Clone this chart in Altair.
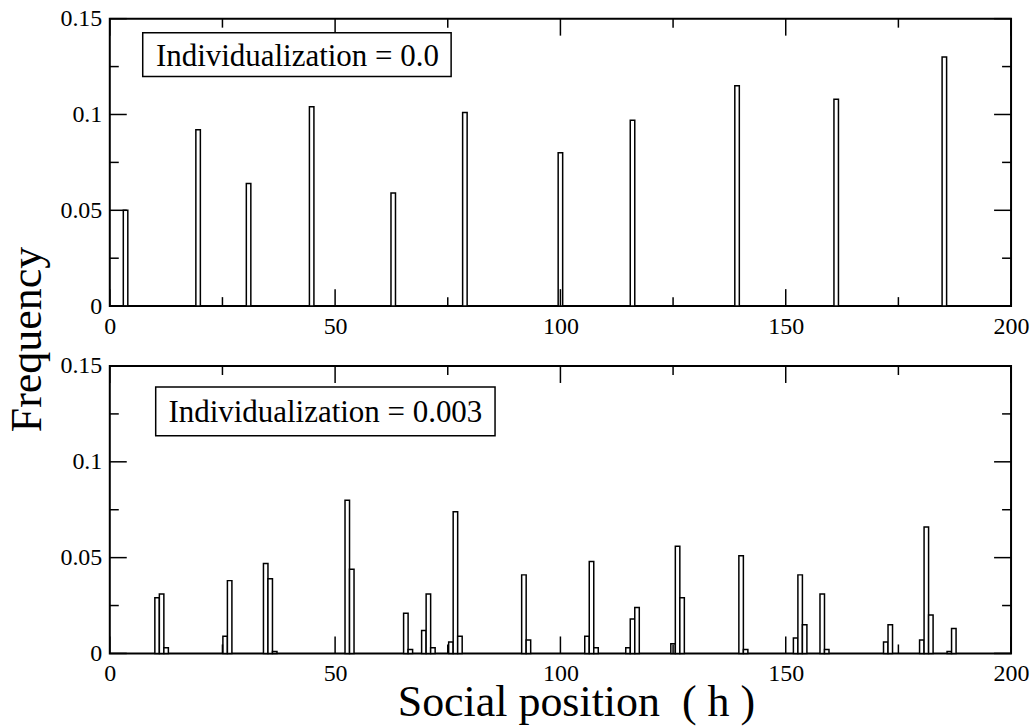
import altair as alt
import pandas as pd

FONT = "Liberation Serif"

# Histogram bins (left edge of each 1-wide bin) and their frequencies.
top_start = [3.0, 19.1, 30.3, 44.3, 62.4, 78.3, 99.5, 115.5, 138.7, 160.7, 184.7]
top_freq = [0.050, 0.092, 0.064, 0.104, 0.059, 0.101, 0.080, 0.097, 0.115, 0.108, 0.130]

bottom_start = [
    10.0, 11.0, 12.0,
    25.1, 26.1,
    34.1, 35.1, 36.1,
    52.2, 53.2,
    65.2, 66.2,
    69.2, 70.2, 71.2,
    75.2, 76.2, 77.2,
    91.4, 92.4,
    105.4, 106.4, 107.4,
    114.5, 115.5, 116.5,
    124.5, 125.5, 126.5,
    139.6, 140.6,
    151.7, 152.7, 153.7,
    157.6, 158.6,
    171.7, 172.7,
    179.7, 180.7, 181.7,
    185.8, 186.8,
]
bottom_freq = [
    0.029, 0.031, 0.003,
    0.009, 0.038,
    0.047, 0.039, 0.001,
    0.080, 0.044,
    0.021, 0.002,
    0.012, 0.031, 0.003,
    0.006, 0.074, 0.009,
    0.041, 0.007,
    0.009, 0.048, 0.003,
    0.003, 0.018, 0.024,
    0.005, 0.056, 0.029,
    0.051, 0.002,
    0.008, 0.041, 0.015,
    0.031, 0.002,
    0.006, 0.015,
    0.007, 0.066, 0.020,
    0.001, 0.013,
]

bin_width = 1.0

x_major = [0, 50, 100, 150, 200]
x_minor = [25, 75, 125, 175]
y_major = [0, 0.05, 0.1, 0.15]
y_minor = [0.025, 0.075, 0.125]

top_label = "Individualization = 0.0"
bottom_label = "Individualization = 0.003"
y_title = "Frequency"
x_title = "Social position\u00a0\u00a0( h )"

W, H = 903, 288
MAJOR, MINOR = 17, 9

x_scale = alt.Scale(domain=[0, 200], nice=False, zero=False)
y_scale = alt.Scale(domain=[0, 0.15], nice=False, zero=False)

label_style = dict(
    labelFont=FONT, labelFontSize=24, labelColor="black",
    labelFlush=False, labelOverlap=False,
    ticks=False, domain=False, grid=False,
    titleFont=FONT, titleFontWeight="normal", titleColor="black",
)


def tick_layers(x_axis, y_axis):
    # inward-pointing major and minor ticks on all four sides
    layers = []
    for vals, size in [(x_major, MAJOR), (x_minor, MINOR)]:
        df = pd.DataFrame({"h": vals})
        base = alt.Chart(df).mark_rule(color="black", strokeWidth=1.5)
        enc_x = alt.X("h:Q", scale=x_scale, axis=x_axis)
        layers.append(base.encode(x=enc_x, y=alt.value(H), y2=alt.value(H - size)))
        layers.append(base.encode(x=enc_x, y=alt.value(0), y2=alt.value(size)))
    for vals, size in [(y_major, MAJOR), (y_minor, MINOR)]:
        df = pd.DataFrame({"freq": vals})
        base = alt.Chart(df).mark_rule(color="black", strokeWidth=1.5)
        enc_y = alt.Y("freq:Q", scale=y_scale, axis=y_axis)
        layers.append(base.encode(y=enc_y, x=alt.value(0), x2=alt.value(size)))
        layers.append(base.encode(y=enc_y, x=alt.value(W), x2=alt.value(W - size)))
    return layers


def panel(starts, freqs, label, box, text_xy, x_axis, y_axis):
    df = pd.DataFrame({
        "h": starts,
        "h_end": [s + bin_width for s in starts],
        "freq": freqs,
    })
    bars = alt.Chart(df).mark_rect(
        fill="white", stroke="black", strokeWidth=1.5
    ).encode(
        x=alt.X("h:Q", scale=x_scale, axis=x_axis),
        x2="h_end:Q",
        y=alt.Y("freq:Q", scale=y_scale, axis=y_axis),
        y2=alt.datum(0),
    )
    x0, x1, y0, y1 = box
    frame = alt.Chart(pd.DataFrame({"t": [label]})).mark_rect(
        fill="white", stroke="black", strokeWidth=1.5
    ).encode(x=alt.value(x0), x2=alt.value(x1), y=alt.value(y0), y2=alt.value(y1))
    text = alt.Chart(pd.DataFrame({"t": [label]})).mark_text(
        font=FONT, fontSize=31, color="black", align="center", baseline="alphabetic"
    ).encode(text="t:N", x=alt.value(text_xy[0]), y=alt.value(text_xy[1]))
    return alt.layer(bars, *tick_layers(x_axis, y_axis), frame, text).properties(width=W, height=H)


top_x_axis = alt.Axis(values=x_major, title=None, labelPadding=8, **label_style)
top_y_axis = alt.Axis(
    values=y_major, format=".2~f", labelPadding=8, title=y_title,
    titleFontSize=44, titleAngle=270, titleAlign="center", titleBaseline="middle",
    titleX=-82, titleY=321, **label_style,
)
bottom_x_axis = alt.Axis(
    values=x_major, labelPadding=8, title=x_title,
    titleFontSize=44, titleAlign="center", titleBaseline="alphabetic",
    titleX=467, titleY=62, **label_style,
)
bottom_y_axis = alt.Axis(values=y_major, format=".2~f", labelPadding=8, title=None, **label_style)

top = panel(top_start, top_freq, top_label, (33, 342, 14, 58), (188, 47), top_x_axis, top_y_axis)
bottom = panel(bottom_start, bottom_freq, bottom_label, (46, 386, 21, 70), (216, 56),
               bottom_x_axis, bottom_y_axis)

chart = alt.vconcat(top, bottom, spacing=60, bounds="flush").properties(
    background="white", padding={"left": 5, "top": 5, "right": 5, "bottom": 5}
).configure_view(stroke="black", strokeWidth=2)

chart.save("out.html", embed_options={"renderer": "svg", "actions": False})
